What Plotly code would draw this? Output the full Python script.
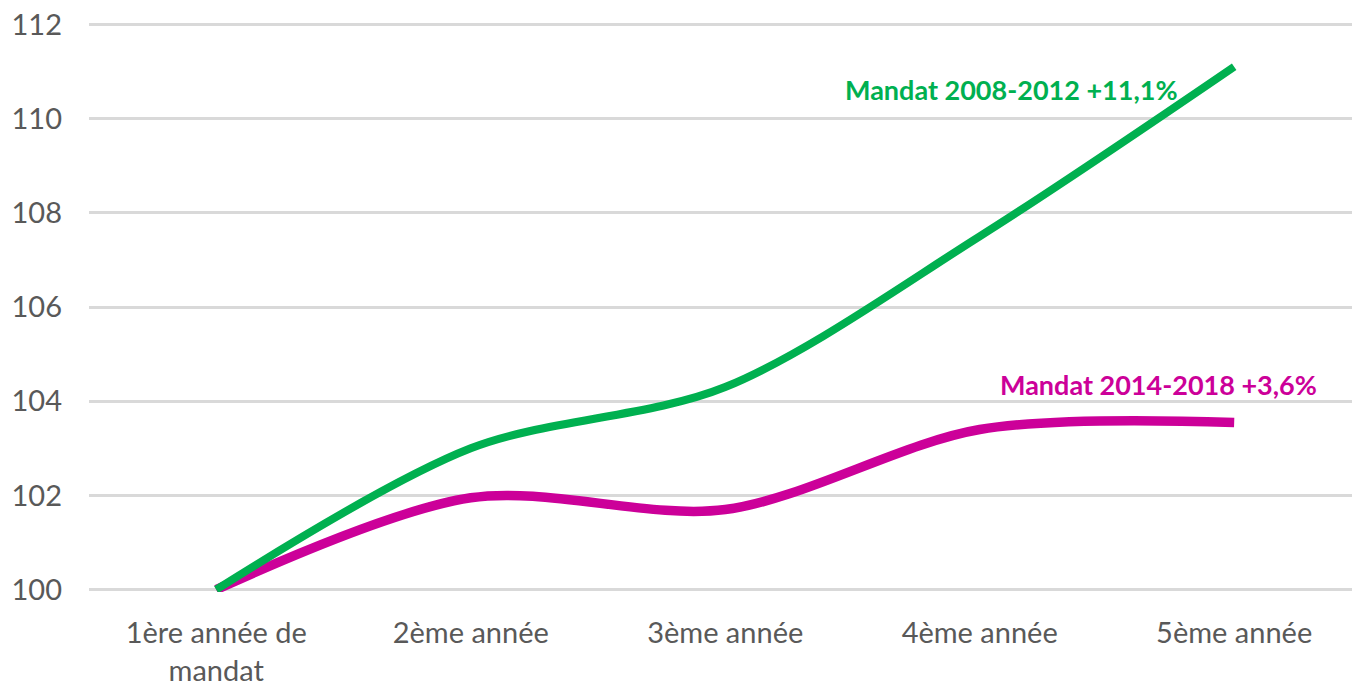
import plotly.graph_objects as go

categories = ["1ère année de<br>mandat", "2ème année", "3ème année", "4ème année", "5ème année"]
mandat_2008_2012 = [100, 103.0, 104.3, 107.5, 111.1]
mandat_2014_2018 = [100, 101.95, 101.7, 103.4, 103.55]
label_2008 = "Mandat 2008-2012 +11,1%"
label_2014 = "Mandat 2014-2018 +3,6%"
y_ticks = [100, 102, 104, 106, 108, 110, 112]

GREEN = "#00b050"
MAGENTA = "#cc0099"
FONT = "Lato, Roboto, sans-serif"

x_idx = list(range(len(categories)))

fig = go.Figure()
fig.add_trace(go.Scatter(
    x=x_idx, y=mandat_2014_2018, mode="lines",
    line=dict(color=MAGENTA, width=9.5, shape="spline", smoothing=0.9),
    cliponaxis=False, showlegend=False, hoverinfo="skip"))
fig.add_trace(go.Scatter(
    x=x_idx, y=mandat_2008_2012, mode="lines",
    line=dict(color=GREEN, width=8, shape="spline", smoothing=0.9),
    cliponaxis=False, showlegend=False, hoverinfo="skip"))

fig.add_annotation(x=3.124, y=110.62, xref="x", yref="y", text="<b>" + label_2008 + "</b>",
                   showarrow=False, font=dict(family=FONT, size=27, color=GREEN))
fig.add_annotation(x=3.703, y=104.35, xref="x", yref="y", text="<b>" + label_2014 + "</b>",
                   showarrow=False, font=dict(family=FONT, size=27, color=MAGENTA))

fig.update_layout(
    width=1352, height=696,
    margin=dict(l=89, r=0, t=22, b=104, autoexpand=False),
    paper_bgcolor="white", plot_bgcolor="white",
    font=dict(family=FONT, size=29, color="#595959"),
    xaxis=dict(
        tickmode="array", tickvals=x_idx, ticktext=categories,
        range=[-0.5, 4.463], showgrid=False, zeroline=False, automargin=False,
        showline=False, ticks="", ticklabelstandoff=21,
    ),
    yaxis=dict(
        range=[99.95, 112.05], tickmode="array", tickvals=y_ticks, automargin=False,
        showgrid=True, gridcolor="#d9d9d9", gridwidth=2.5,
        zeroline=False, showline=False, ticks="", ticklabelstandoff=26,
    ),
)

fig.write_html("out.html", config={"displayModeBar": False},
               post_script="document.body.style.margin='0';")
